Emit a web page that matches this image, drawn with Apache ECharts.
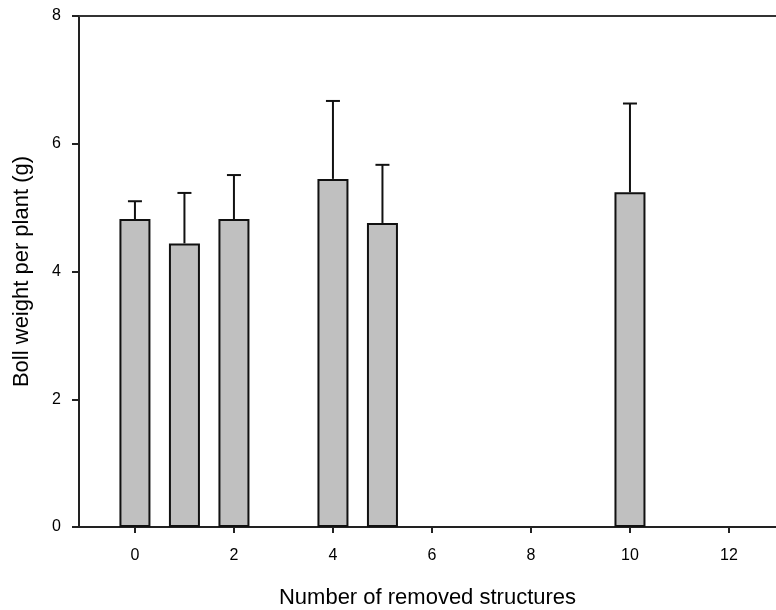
<!DOCTYPE html>
<html>
<head>
<meta charset="utf-8">
<script src="https://cdn.jsdelivr.net/npm/echarts@6/dist/echarts.min.js"></script>
<style>
  html, body { margin: 0; padding: 0; background: #fff; }
  #chart { width: 776px; height: 610px; }
</style>
</head>
<body>
<div id="chart"></div>
<script>
  const removed = [0, 1, 2, 4, 5, 10];
  const bollWeight = [4.82, 4.44, 4.82, 5.45, 4.76, 5.24];
  const stdError = [0.28, 0.79, 0.69, 1.22, 0.91, 1.39];
  const xTicks = [0, 2, 4, 6, 8, 10, 12];

  const chart = echarts.init(document.getElementById('chart'));
  const font = "'Liberation Sans', Arial, sans-serif";

  const barData = removed.map((x, i) => [x, bollWeight[i]]);
  const errData = removed.map((x, i) => [x, bollWeight[i], bollWeight[i] + stdError[i]]);

  const option = {
    animation: false,
    grid: { left: 79, right: 0, top: 16, bottom: 83, outerBoundsMode: 'none' },
    xAxis: [
      {
        type: 'value',
        min: -1.13,
        max: 12.95,
        name: 'Number of removed structures',
        nameLocation: 'middle',
        nameGap: 60,
        nameTextStyle: { fontFamily: font, fontSize: 22, color: '#000' },
        axisLine: { onZero: false, lineStyle: { color: '#222', width: 2 } },
        axisTick: { customValues: xTicks, length: 6, lineStyle: { color: '#222', width: 2 } },
        axisLabel: { customValues: xTicks, margin: 21, fontFamily: font, fontSize: 16, color: '#000' },
        splitLine: { show: false }
      },
      {
        type: 'value',
        position: 'top',
        min: -1.13,
        max: 12.95,
        axisLine: { show: true, onZero: false, lineStyle: { color: '#333', width: 2 } },
        axisTick: { show: false },
        axisLabel: { show: false },
        splitLine: { show: false }
      }
    ],
    yAxis: {
      type: 'value',
      min: 0,
      max: 8,
      interval: 2,
      name: 'Boll weight per plant (g)',
      nameLocation: 'middle',
      nameGap: 46,
      nameTextStyle: { fontFamily: font, fontSize: 22, color: '#000' },
      axisLine: { show: true, onZero: false, lineStyle: { color: '#222', width: 2 } },
      axisTick: { show: true, length: 7, lineStyle: { color: '#222', width: 2 } },
      axisLabel: { margin: 18, fontFamily: font, fontSize: 16, color: '#000' },
      splitLine: { show: false }
    },
    series: [
      {
        type: 'bar',
        data: barData,
        barWidth: 31,
        itemStyle: { color: '#c0c0c0', borderColor: '#111', borderWidth: 2 }
      },
      {
        type: 'custom',
        data: errData,
        z: 1,
        renderItem: function (params, api) {
          const x = api.value(0);
          const base = api.coord([x, api.value(1)]);
          const top = api.coord([x, api.value(2)]);
          const style = { stroke: '#111', lineWidth: 2 };
          return {
            type: 'group',
            children: [
              { type: 'line', shape: { x1: base[0], y1: base[1], x2: top[0], y2: top[1] }, style: style },
              { type: 'line', shape: { x1: top[0] - 7, y1: top[1], x2: top[0] + 7, y2: top[1] }, style: style }
            ]
          };
        }
      }
    ]
  };

  chart.setOption(option);
</script>
</body>
</html>
